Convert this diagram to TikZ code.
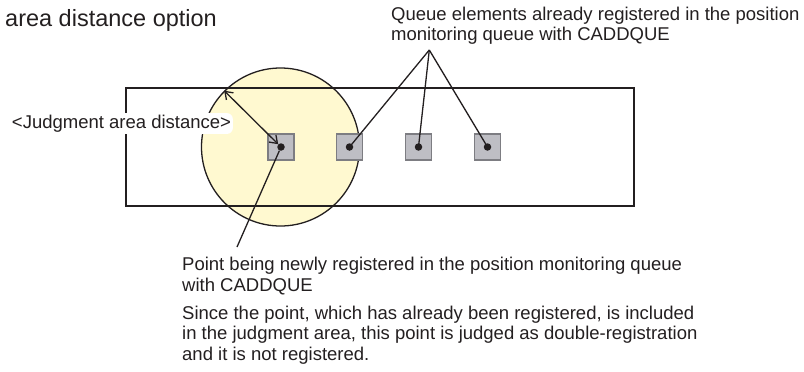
\documentclass[tikz,border=0pt]{standalone}
\usepackage{fontspec}
\setmainfont{Liberation Sans}
\usetikzlibrary{arrows.meta}

\definecolor{areayellow}{RGB}{255,249,208}
\definecolor{cellgray}{RGB}{190,190,196}
\definecolor{celledge}{RGB}{125,125,130}
\definecolor{ink}{RGB}{35,31,32}

\begin{document}
\begin{tikzpicture}[x=1pt,y=-1pt,
  cell/.style={draw=celledge,fill=cellgray,line width=1.2pt,minimum size=26pt,inner sep=0pt},
  spot/.style={circle,fill=ink,minimum size=7.5pt,inner sep=0pt},
  txt/.style={anchor=base west,inner sep=0pt,align=left,text=ink,font=\fontsize{18.5}{20.5}\selectfont},
  lead/.style={draw=ink,line width=1.3pt}]
\useasboundingbox (0,0) rectangle (804,372);

% Judgment area
\node[circle,draw=ink,fill=areayellow,line width=1.3pt,minimum size=158pt,inner sep=0pt] (area) at (280.5,147) {};

% Monitoring field
\draw[ink,line width=2.3pt] (126,88.3) rectangle (634,206);

% Queue elements
\foreach \i/\x in {1/281,2/349.5,3/418.5,4/487.5}{
  \node[cell] (q\i) at (\x,147) {};
  \node[spot] (d\i) at (q\i) {};
}

\node[anchor=base west,inner sep=0pt,text=ink,font=\fontsize{23.5}{27}\selectfont] (title) at (5,26.7) {area distance option};

% Registered elements (base = last line)
\node[txt] (queuenote) at (391,41) {Queue elements already registered in the position\\monitoring queue with CADDQUE};
\coordinate (apex) at (429.3,50);
\foreach \i in {2,3,4}
  \draw[lead] (apex) -- (d\i.center);

% Distance
\draw[lead,{Straight Barb[length=7pt,width=10pt]}-{Straight Barb[length=7pt,width=10pt]}] (area.135) -- (d1);
\node[txt,fill=white,inner sep=1.8pt,rounded corners=6pt] (dist) at (10,128.3) {<Judgment area distance>};

% New point
\coordinate (newend) at (237,247);
\draw[lead] (d1) -- (newend);
\node[txt] (newnote) at (182,291) {Point being newly registered in the position monitoring queue\\with CADDQUE};
\node[txt] (result) at (182,360) {Since the point, which has already been registered, is included\\in the judgment area, this point is judged as double-registration\\and it is not registered.};

\end{tikzpicture}
\end{document}
